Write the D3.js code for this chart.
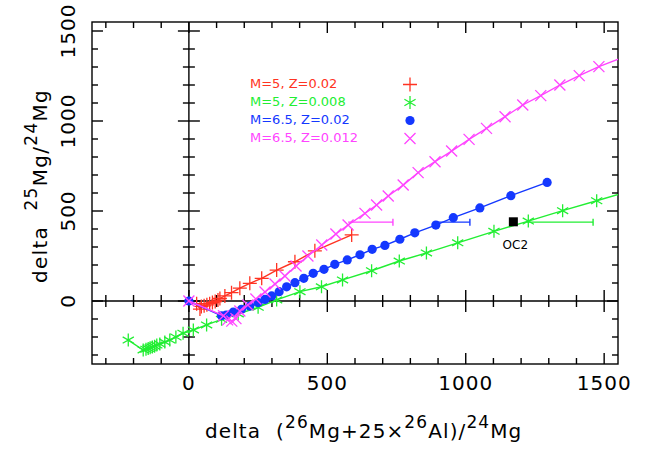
<!DOCTYPE html>
<html>
<head>
<meta charset="utf-8">
<script src="https://cdn.jsdelivr.net/npm/d3@7"></script>
<style>
  html, body { margin: 0; padding: 0; background: #ffffff; }
  svg { display: block; }
  text { font-family: "DejaVu Sans", sans-serif; }
</style>
</head>
<body>
<svg id="chart" width="658" height="450"></svg>
<script>
// ---------------- data ----------------
const xDomain = [-350, 1550];
const yDomain = [-350, 1550];
const tickValues = d3.range(-300, 1501, 100);
const majorTicks = [0, 500, 1000, 1500];
const tickLabels = ["0", "500", "1000", "1500"];

const seriesNames = ["M=5, Z=0.02", "M=5, Z=0.008", "M=6.5, Z=0.02", "M=6.5, Z=0.012"];
const seriesColors = ["#ff3322", "#22ee33", "#1438ff", "#ff44ff"];
const seriesSymbols = ["plus", "asterisk", "dot", "cross"];

// M=5, Z=0.02 (red +)
const red = [[28,-15],[40,-45],[45,-30],[55,-27],[65,-21],[75,-15],[85,-9],[95,-3],[105,5],
  [112,14],[130,28],[154,46],[184,71],[220,98],[263,126],[317,172],[383,218],[455,279],[588,367]];

// M=5, Z=0.008 (green *)
const green = [[-219,-217],[-165,-272],[-155,-268],[-147,-264],[-140,-260],[-132,-256],[-124,-251],
  [-116,-245],[-105,-239],[-87,-228],[-69,-217],[-47,-200],[-21,-179],[16,-161],[64,-133],
  [118,-102],[178,-72],[250,-35],[317,6],[401,52],[479,79],[555,117],[660,168],[760,222],
  [858,267],[971,323],[1102,387],[1226,444],[1350,502],[1473,557],[1597,613]];

// M=6.5, Z=0.02 (blue dots)
const blue = [[0,0],[118,-82],[135,-78],[160,-62],[190,-46],[220,-28],[250,-9],[275,9],[299,28],
  [326,52],[353,79],[383,102],[415,126],[449,154],[488,176],[527,204],[572,228],[618,257],
  [662,287],[708,309],[762,343],[816,379],[892,422],[955,463],[1051,517],[1163,585],[1294,659]];

// M=6.5, Z=0.012 (magenta x)
const magenta = [[0,0],[125,-82],[140,-105],[155,-112],[170,-98],[184,-56],[213,-22],[242,11],
  [275,50],[311,94],[347,139],[387,194],[430,250],[480,311],[531,372],[575,422],[636,487],
  [678,533],[720,583],[774,644],[828,713],[889,774],[949,833],[1012,898],[1075,959],
  [1142,1024],[1206,1089],[1271,1141],[1340,1200],[1410,1252],[1481,1302],[1620,1385]];

// horizontal bars: [xStart, xEnd, y, seriesIndex]
const bars = [[575, 737, 438, 3], [892, 1015, 438, 2], [1221, 1460, 438, 1]];

// OC2 measured point
const oc2 = {x: 1172, y: 440, label: "OC2"};

// ---------------- drawing ----------------
const svg = d3.select("#chart");
svg.append("rect").attr("width", 658).attr("height", 450).attr("fill", "#fff");

const L = 92, R = 618, T = 22, B = 364;
const x = d3.scaleLinear().domain(xDomain).range([L, R]);
const y = d3.scaleLinear().domain(yDomain).range([B, T]);

const defs = svg.append("defs");
defs.append("clipPath").attr("id", "clip").append("rect")
  .attr("x", L).attr("y", T).attr("width", R - L).attr("height", B - T);

const axisG = svg.append("g").attr("stroke", "#000").attr("stroke-width", 1.4).attr("fill", "none");
axisG.append("rect").attr("x", L).attr("y", T).attr("width", R - L).attr("height", B - T);

const tl = v => majorTicks.includes(v) ? 11 : 6;
const x0 = x(0), y0 = y(0);
axisG.append("line").attr("x1", x0).attr("x2", x0).attr("y1", T).attr("y2", B);
axisG.append("line").attr("x1", L).attr("x2", R).attr("y1", y0).attr("y2", y0);

tickValues.forEach(v => {
  const len = tl(v);
  const px = x(v), py = y(v);
  // bottom & top frame
  axisG.append("line").attr("x1", px).attr("x2", px).attr("y1", B).attr("y2", B - len);
  axisG.append("line").attr("x1", px).attr("x2", px).attr("y1", T).attr("y2", T + len);
  // left & right frame
  axisG.append("line").attr("y1", py).attr("y2", py).attr("x1", L).attr("x2", L + len);
  axisG.append("line").attr("y1", py).attr("y2", py).attr("x1", R).attr("x2", R - len);
  // crossing ticks on zero axes
  axisG.append("line").attr("x1", px).attr("x2", px).attr("y1", y0 - len).attr("y2", y0 + len);
  axisG.append("line").attr("y1", py).attr("y2", py).attr("x1", x0 - len).attr("x2", x0 + len);
});

// tick labels
majorTicks.forEach((v, i) => {
  svg.append("text").attr("x", x(v)).attr("y", 390).attr("text-anchor", "middle")
    .attr("font-size", 20).attr("letter-spacing", 1).text(tickLabels[i]);
  svg.append("text").attr("transform", `translate(75,${y(v)}) rotate(-90)`)
    .attr("text-anchor", "middle").attr("font-size", 20).attr("letter-spacing", 1).text(tickLabels[i]);
});

// axis titles
function richLabel(g, parts) {
  parts.forEach(p => {
    const t = g.append("tspan").text(p[0]);
    if (p[1] === "sup") t.attr("font-size", 17).attr("dy", -10);
    else if (p[1] === "down") t.attr("dy", 10);
  });
}
const xt = svg.append("text").attr("x", 205).attr("y", 438).attr("font-size", 20)
  .attr("letter-spacing", 1.1).attr("xml:space", "preserve");
xt.append("tspan").text("delta  (");
xt.append("tspan").attr("font-size", 17).attr("dy", -10).text("26");
xt.append("tspan").attr("dy", 10).text("Mg+25×");
xt.append("tspan").attr("font-size", 17).attr("dy", -10).text("26");
xt.append("tspan").attr("dy", 10).text("Al)/");
xt.append("tspan").attr("font-size", 17).attr("dy", -10).text("24");
xt.append("tspan").attr("dy", 10).text("Mg");

const yt = svg.append("text").attr("transform", "translate(47,283) rotate(-90)")
  .attr("font-size", 20).attr("letter-spacing", 1.3).attr("xml:space", "preserve");
yt.append("tspan").text("delta  ");
yt.append("tspan").attr("font-size", 17).attr("dy", -10).text("25");
yt.append("tspan").attr("dy", 10).text("Mg/");
yt.append("tspan").attr("font-size", 17).attr("dy", -10).text("24");
yt.append("tspan").attr("dy", 10).text("Mg");

// symbols
function symbolPath(kind) {
  if (kind === "plus") return "M-7,0H7M0,-7V7";
  if (kind === "cross") return "M-5.5,-5.5L5.5,5.5M-5.5,5.5L5.5,-5.5";
  if (kind === "asterisk") return "M0,-6.5V6.5M-5.6,-3.2L5.6,3.2M-5.6,3.2L5.6,-3.2";
  return null;
}
function drawMarker(g, kind, color, px, py) {
  if (kind === "dot") {
    g.append("circle").attr("cx", px).attr("cy", py).attr("r", 4.6).attr("fill", color);
  } else {
    g.append("path").attr("d", symbolPath(kind)).attr("transform", `translate(${px},${py})`)
      .attr("stroke", color).attr("stroke-width", 1.3).attr("fill", "none");
  }
}

const plot = svg.append("g").attr("clip-path", "url(#clip)");
const line = d3.line().x(d => x(d[0])).y(d => y(d[1]));
const allSeries = [red, green, blue, magenta];
allSeries.forEach((data, i) => {
  plot.append("path").datum(data).attr("d", line).attr("fill", "none")
    .attr("stroke", seriesColors[i]).attr("stroke-width", 1.4);
  data.forEach(d => drawMarker(plot, seriesSymbols[i], seriesColors[i], x(d[0]), y(d[1])));
});

// horizontal bars with caps
bars.forEach(b => {
  const c = seriesColors[b[3]];
  plot.append("line").attr("x1", x(b[0])).attr("x2", x(b[1])).attr("y1", y(b[2])).attr("y2", y(b[2]))
    .attr("stroke", c).attr("stroke-width", 1.4);
  plot.append("line").attr("x1", x(b[1])).attr("x2", x(b[1])).attr("y1", y(b[2]) - 3.5).attr("y2", y(b[2]) + 3.5)
    .attr("stroke", c).attr("stroke-width", 1.4);
});

// OC2
svg.append("rect").attr("x", x(oc2.x) - 4.5).attr("y", y(oc2.y) - 4.5).attr("width", 9).attr("height", 9).attr("fill", "#000");
svg.append("text").attr("x", x(oc2.x) + 2).attr("y", y(oc2.y) + 27).attr("text-anchor", "middle")
  .attr("font-size", 12).text(oc2.label);

// legend
const legendY = [88, 106, 124, 142];
seriesNames.forEach((name, i) => {
  svg.append("text").attr("x", 250).attr("y", legendY[i]).attr("font-size", 13)
    .attr("fill", seriesColors[i]).text(name);
  drawMarker(svg, seriesSymbols[i], seriesColors[i], 410, legendY[i] - 3.5);
});
</script>
</body>
</html>
